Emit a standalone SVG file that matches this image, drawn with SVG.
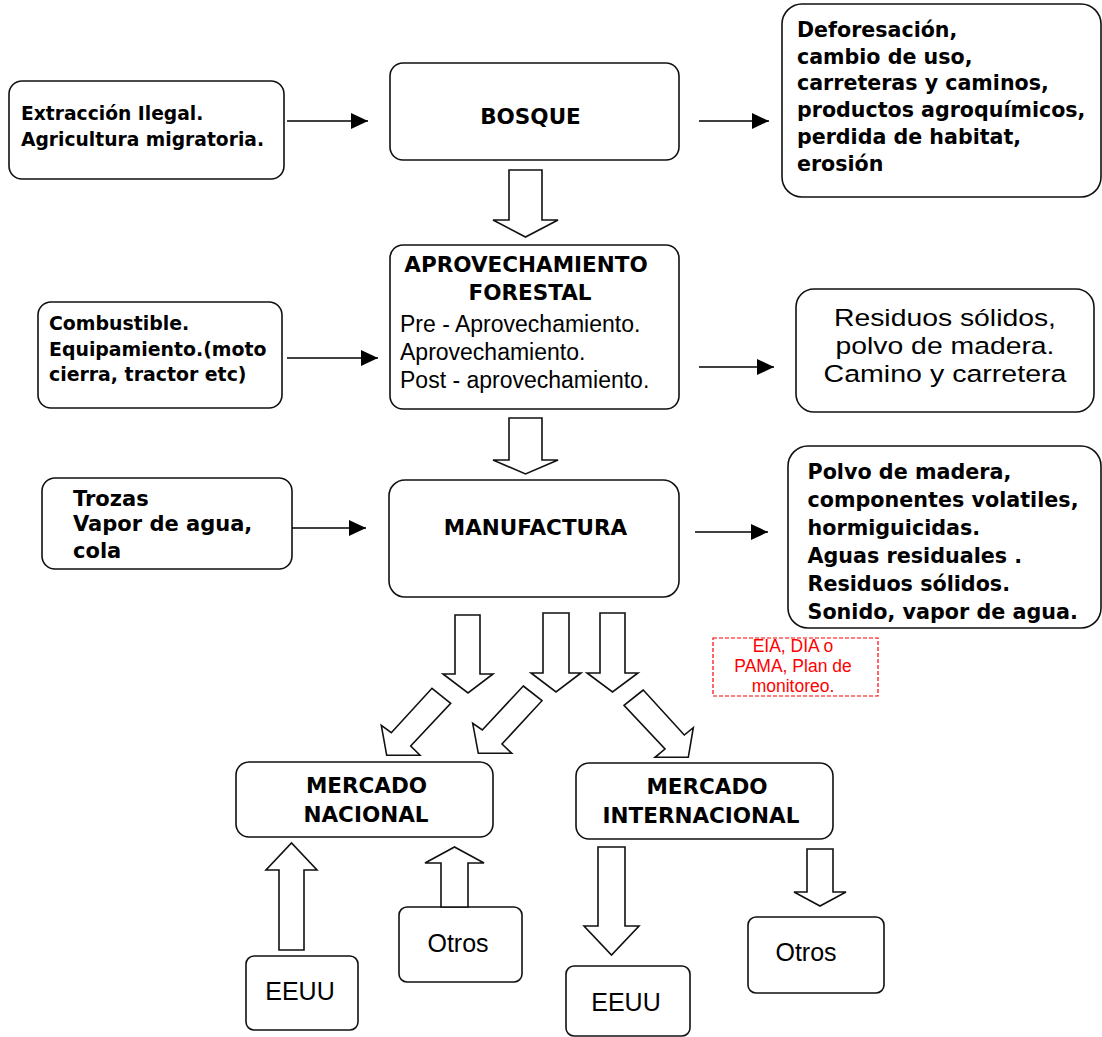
<svg xmlns="http://www.w3.org/2000/svg" width="1102" height="1037" viewBox="0 0 1102 1037">
<style>
.box{fill:#fff;stroke:#111;stroke-width:1.6}
.blk{fill:#fff;stroke:#111;stroke-width:1.6;stroke-linejoin:miter}
.b{font-family:"DejaVu Sans",Verdana,sans-serif;font-weight:bold;fill:#000}
.r{font-family:"Liberation Sans",Arial,sans-serif;fill:#000}
.m{text-anchor:middle}
.conn line{stroke:#000;stroke-width:1.5;marker-end:url(#ah)}
.red{fill:none;stroke:#f00;stroke-width:1.2;stroke-dasharray:4 2}
</style>
<defs>
<marker id="ah" markerUnits="userSpaceOnUse" markerWidth="18" markerHeight="16" refX="17" refY="8" orient="auto"><path d="M0,0 L17,8 L0,16 z" fill="#000"/></marker>
</defs>
<rect width="1102" height="1037" fill="#fff"/>

<g id="n-extraccion">
<rect class="box" x="9" y="81" width="275" height="98" rx="13"/>
<text class="b" font-size="18.7" x="21" y="120">Extracción Ilegal.</text>
<text class="b" font-size="18.7" x="21" y="146">Agricultura migratoria.</text>
</g>

<g id="n-bosque">
<rect class="box" x="390" y="63" width="289" height="97" rx="13"/>
<text class="b m" font-size="21.5" x="530.5" y="124">BOSQUE</text>
</g>

<g id="n-deforestacion">
<rect class="box" x="782" y="4" width="319" height="193" rx="20"/>
<g class="b" font-size="20.6">
<text x="797" y="37">Deforesación,</text>
<text x="797" y="63.7">cambio de uso,</text>
<text x="797" y="90.4">carreteras y caminos,</text>
<text x="797" y="117.1">productos agroquímicos,</text>
<text x="797" y="143.8">perdida de habitat,</text>
<text x="797" y="170.5">erosión</text>
</g>
</g>

<g id="n-combustible">
<rect class="box" x="38" y="302" width="244" height="106" rx="13"/>
<g class="b" font-size="18.9">
<text x="49" y="330">Combustible.</text>
<text x="49" y="355.5">Equipamiento.(moto</text>
<text x="49" y="381">cierra, tractor etc)</text>
</g>
</g>

<g id="n-aprovechamiento">
<rect class="box" x="390" y="245" width="289" height="164" rx="13"/>
<text class="b m" font-size="21.5" x="526" y="272">APROVECHAMIENTO</text>
<text class="b m" font-size="21.5" x="530" y="300">FORESTAL</text>
<g class="r" font-size="23">
<text x="400" y="332">Pre - Aprovechamiento.</text>
<text x="400" y="360">Aprovechamiento.</text>
<text x="400" y="388">Post - aprovechamiento.</text>
</g>
</g>

<g id="n-residuos">
<rect class="box" x="796" y="289" width="298" height="123" rx="18"/>
<g class="r m" font-size="24.5">
<text x="945" y="326" textLength="222" lengthAdjust="spacingAndGlyphs">Residuos sólidos,</text>
<text x="945" y="354" textLength="219" lengthAdjust="spacingAndGlyphs">polvo de madera.</text>
<text x="945" y="382" textLength="243" lengthAdjust="spacingAndGlyphs">Camino y carretera</text>
</g>
</g>

<g id="n-trozas">
<rect class="box" x="42" y="478" width="250" height="91" rx="13"/>
<g class="b" font-size="21">
<text x="73" y="506">Trozas</text>
<text x="73" y="531">Vapor de agua,</text>
<text x="73" y="558">cola</text>
</g>
</g>

<g id="n-manufactura">
<rect class="box" x="389" y="480" width="290" height="117" rx="16"/>
<text class="b m" font-size="21.5" x="535.5" y="535">MANUFACTURA</text>
</g>

<g id="n-polvo">
<rect class="box" x="788" y="446" width="313" height="182" rx="20"/>
<g class="b" font-size="20.7">
<text x="807.5" y="479">Polvo de madera,</text>
<text x="807.5" y="507">componentes volatiles,</text>
<text x="807.5" y="534.5">hormiguicidas.</text>
<text x="807.5" y="563">Aguas residuales .</text>
<text x="807.5" y="591">Residuos sólidos.</text>
<text x="807.5" y="619">Sonido, vapor de agua.</text>
</g>
</g>

<g id="n-eia">
<rect class="red" x="713" y="638" width="165" height="58"/>
<g class="r m" font-size="17.5" style="fill:#f00">
<text x="793" y="652">EIA, DIA o</text>
<text x="793" y="672">PAMA, Plan de</text>
<text x="793" y="692">monitoreo.</text>
</g>
</g>

<g id="n-nacional">
<rect class="box" x="236" y="762" width="257" height="75" rx="13"/>
<text class="b m" font-size="21.5" x="366.5" y="793">MERCADO</text>
<text class="b m" font-size="21.5" x="366" y="822">NACIONAL</text>
</g>

<g id="n-internacional">
<rect class="box" x="576" y="763" width="257" height="76" rx="13"/>
<text class="b m" font-size="21.5" x="707" y="794">MERCADO</text>
<text class="b m" font-size="21.5" x="701" y="823">INTERNACIONAL</text>
</g>

<g id="n-eeuu-nac">
<rect class="box" x="246" y="956" width="112" height="74" rx="8"/>
<text class="r m" font-size="25" x="300" y="1000">EEUU</text>
</g>

<g id="n-otros-nac">
<rect class="box" x="399" y="907" width="123" height="75" rx="8"/>
<text class="r m" font-size="25" x="458" y="952">Otros</text>
</g>

<g id="n-eeuu-int">
<rect class="box" x="566" y="966" width="124" height="70" rx="8"/>
<text class="r m" font-size="25" x="626" y="1011">EEUU</text>
</g>

<g id="n-otros-int">
<rect class="box" x="748" y="917" width="136" height="76" rx="8"/>
<text class="r m" font-size="25" x="806" y="961">Otros</text>
</g>

<g id="connectors">
<g class="conn">
<line x1="287" y1="121" x2="368" y2="121"/>
<line x1="699" y1="121" x2="769" y2="121"/>
<line x1="287" y1="358" x2="378" y2="358"/>
<line x1="699" y1="367" x2="774" y2="367"/>
<line x1="292" y1="528" x2="366" y2="528"/>
<line x1="695" y1="532" x2="768" y2="532"/>
</g>
<g class="blk">
<polygon points="509,170 542,170 542,220 558,220 525.5,237 493,220 509,220"/>
<polygon points="509,418 542,418 542,460 558,460 525.5,474 493,460 509,460"/>
<polygon points="455,615 480,615 480,674 493,674 468,693 443,674 455,674"/>
<polygon points="543,613 569,613 569,673 581,673 556,692 531,673 543,673"/>
<polygon points="600,613 625,613 625,673 638,673 612.5,692 587,673 600,673"/>
<polygon points="432,688.3 450.7,703.3 410.7,746 420,755.3 386.7,755.3 381.3,725.3 391.3,732.7"/>
<polygon points="523.3,686 542,700.7 502,744 511.7,753.3 478.3,753.3 472.7,723.3 482.3,730"/>
<polygon points="643.3,690 624,705.3 665,749 655,757.3 688.3,757.3 693.3,727.7 684.3,735"/>
<polygon points="279,950 304,950 304,870 317,870 291.5,843 266,870 279,870"/>
<polygon points="441,907 468,907 468,863 484,863 454.5,847 425,863 441,863"/>
<polygon points="598,847 625,847 625,926 639,926 611.5,955 584,926 598,926"/>
<polygon points="807,849 833,849 833,892 846,892 820,906 794,892 807,892"/>
</g>
</g>
</svg>
